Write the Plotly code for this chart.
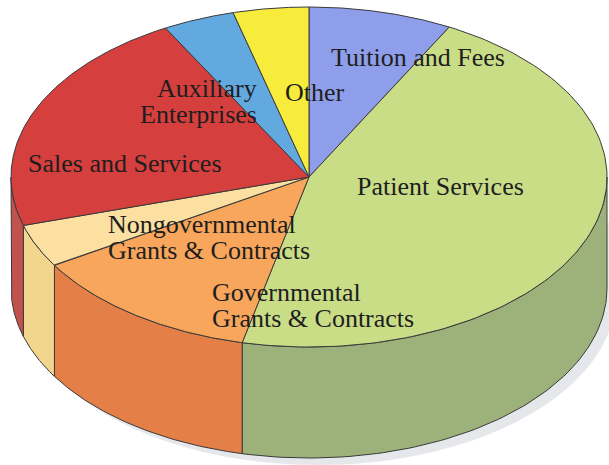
import numpy as np
import plotly.graph_objects as go

# ---- data ----
categories = ["Tuition and Fees", "Patient Services", "Governmental Grants & Contracts",
              "Nongovernmental Grants & Contracts", "Sales and Services",
              "Auxiliary Enterprises", "Other"]
values = [7.8, 45.8, 12.7, 4.1, 21.6, 3.9, 4.1]

label_lines = [["Tuition and Fees"], ["Patient Services"], ["Governmental", "Grants & Contracts"],
               ["Nongovernmental", "Grants & Contracts"], ["Sales and Services"],
               ["Auxiliary", "Enterprises"], ["Other"]]

top_colors = ["#8e9eea", "#c9dc86", "#f7a65c", "#fbe0a2", "#d53f3d", "#62a9e0", "#f7ec3c"]
side_colors = ["#7b8ad0", "#9db27b", "#e47f48", "#f3d68e", "#c2524c", "#4f8fc8", "#dccf30"]

# ---- geometry of the projected pie ----
CX, CY, RX, RY, DEPTH = 309.0, 177.0, 298.0, 170.0, 111.0
W, H = 609, 465


def ell(theta_deg, drop=0.0):
    t = np.radians(theta_deg)
    return CX + RX * np.sin(t), CY - RY * np.cos(t) + drop


vals = np.array(values, dtype=float)
ends = np.cumsum(vals) / vals.sum() * 360.0
starts = np.concatenate([[0.0], ends[:-1]])

fig = go.Figure()
edge = dict(color="#3a3a3a", width=1)

# soft shadow
th = np.linspace(90, 270, 120)
sx, sy = ell(th, DEPTH)
sx2, sy2 = ell(th[::-1], 0)
fig.add_trace(go.Scatter(x=np.concatenate([sx + 9, sx2 + 9]), y=np.concatenate([sy + 7, sy2 + 7]),
                         fill="toself", fillcolor="rgba(150,160,175,0.25)", mode="none",
                         hoverinfo="skip", showlegend=False))

# side walls (front half only)
for a1, a2, col in zip(starts, ends, side_colors):
    lo, hi = max(a1, 90.0), min(a2, 270.0)
    if lo >= hi:
        continue
    th = np.linspace(lo, hi, 80)
    tx, ty = ell(th)
    bx, by = ell(th[::-1], DEPTH)
    xs = np.concatenate([tx, bx, tx[:1]])
    ys = np.concatenate([ty, by, ty[:1]])
    fig.add_trace(go.Scatter(x=xs, y=ys, fill="toself", fillcolor=col, mode="lines",
                             line=edge, hoverinfo="skip", showlegend=False))

# top slices
for a1, a2, col, name in zip(starts, ends, top_colors, categories):
    th = np.linspace(a1, a2, 120)
    tx, ty = ell(th)
    xs = np.concatenate([[CX], tx, [CX]])
    ys = np.concatenate([[CY], ty, [CY]])
    fig.add_trace(go.Scatter(x=xs, y=ys, fill="toself", fillcolor=col, mode="lines",
                             line=edge, name=name, hoverinfo="name", showlegend=False))

# labels: (anchor x, first line y, x-anchor)
label_pos = [(418, 57, "center"), (440, 186, "center"), (210, 292, "left"),
             (106, 224, "left"), (125, 163, "center"), (259, 88, "right"), (315, 92, "center")]
LINE_H = 26
for lines, (lx, ly, anc) in zip(label_lines, label_pos):
    for i, ln in enumerate(lines):
        fig.add_annotation(x=lx, y=ly + i * LINE_H, text=ln, showarrow=False,
                           xref="x", yref="y", xanchor=anc, yanchor="middle",
                           font=dict(family="Liberation Serif", size=26, color="#1e1e1e"))

fig.update_layout(width=W, height=H, margin=dict(l=0, r=0, t=0, b=0),
                  paper_bgcolor="white", plot_bgcolor="white",
                  xaxis=dict(range=[0, W], visible=False, fixedrange=True),
                  yaxis=dict(range=[H, 0], visible=False, fixedrange=True))

fig.write_html("out.html", config={"displayModeBar": False},
               post_script="document.body.style.margin='0';document.body.style.overflow='hidden';")
